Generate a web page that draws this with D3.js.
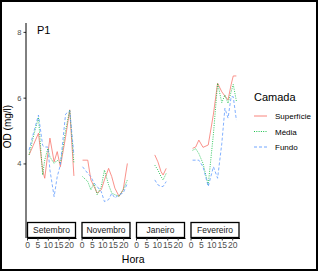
<!DOCTYPE html>
<html>
<head>
<meta charset="utf-8">
<script src="https://cdn.jsdelivr.net/npm/d3@7"></script>
<style>
  body { margin: 0; background: #fff; }
  text { font-family: "Liberation Sans", Arial, sans-serif; }
</style>
</head>
<body>
<div id="chart"></div>
<script>
// meses (facetas)
const months = ["Setembro", "Novembro", "Janeiro", "Fevereiro"];
const layers = ["Superfície", "Média", "Fundo"];
const xTicks = [0, 5, 10, 15, 20];
const yTicks = [4, 6, 8];

// Setembro
const hoursSet = [1, 3, 5.5, 7.5, 8.5, 10, 11, 13, 14.5, 16, 18.5, 20.5, 22.5];
const supSet = [4.26, 4.55, 4.92, 3.8, 3.55, 4.3, 4.77, 4.05, 4.36, 3.9, 4.8, 5.63, 3.62];
const medSet = [4.26, 4.8, 5.4, 3.65, 4.1, 4.46, 4.2, 4.0, 4.1, 4.0, 5.0, 5.63, 4.0];
const funSet = [4.41, 4.9, 5.47, 4.55, 4.5, 4.5, 3.8, 2.99, 3.6, 3.95, 5.5, 5.6, 4.26];

// Novembro
const hoursNov = [0.5, 3, 4.5, 6, 7.5, 9.5, 11, 13, 14.5, 16, 18, 20, 22];
const supNov = [4.1, 4.1, 3.5, 3.3, 3.1, 3.2, 3.5, 3.85, 3.6, 3.25, 3.0, 3.2, 4.0];
const medNov = [3.6, 3.45, 3.2, 3.4, 3.05, 3.3, 3.8, 3.35, 3.1, 3.05, 3.0, 3.2, 3.5];
const funNov = [3.9, 3.7, 3.6, 3.4, 3.3, 3.14, 2.84, 2.9, 3.09, 2.95, 3.05, 3.1, 3.4];

// Janeiro
const hoursJan = [9, 10.5, 12, 13, 14.5];
const supJan = [4.26, 4.05, 3.75, 3.65, 3.85];
const medJan = [3.95, 3.8, 3.6, 3.5, 3.7];
const funJan = [3.5, 3.35, 3.3, 3.3, 3.45];

// Fevereiro
const hoursFev = [1, 2.5, 4, 6, 8.5, 11, 13, 15, 16.5, 18, 19.5, 20.5, 22];
const supFev = [4.46, 4.5, 4.71, 4.49, 4.56, 5.5, 6.44, 6.18, 6.05, 5.93, 6.4, 6.66, 6.66];
const medFev = [4.4, 4.45, 4.3, 4.0, 3.35, 4.9, 6.44, 5.85, 6.08, 5.83, 6.18, 6.4, 5.9];
const funFev = [4.1, 4.1, 4.1, 3.9, 3.3, 3.9, 3.55, 4.6, 5.68, 5.38, 6.03, 6.03, 5.32];

const hours = [hoursSet, hoursNov, hoursJan, hoursFev];
const values = [
  [supSet, medSet, funSet],
  [supNov, medNov, funNov],
  [supJan, medJan, funJan],
  [supFev, medFev, funFev]
];

const colors = ["#F8766D", "#00BA38", "#619CFF"];
const dashes = [null, "1,1.3", "3,2"];

const W = 318, H = 271;
const svg = d3.select("#chart").append("svg")
  .attr("width", W).attr("height", H);

svg.append("rect")
  .attr("x", 1).attr("y", 1).attr("width", W - 2).attr("height", H - 2)
  .attr("fill", "#fff").attr("stroke", "#000").attr("stroke-width", 2);

// painéis
const panelX0 = 27, panelW = 49, gap = 5.5;
const panelTop = 23, panelBottom = 222;
const stripH = 16;
const axisY = panelBottom + stripH;

const y = d3.scaleLinear().domain([2.22, 8.27]).range([panelBottom, panelTop]);

// eixo y
const yAxis = svg.append("g").attr("transform", `translate(${panelX0 - 1},0)`)
  .call(d3.axisLeft(y).tickValues(yTicks).tickFormat(d3.format("d")).tickSize(2.5).tickPadding(2));
yAxis.select(".domain").remove();
yAxis.selectAll("line").attr("stroke", "#333");
yAxis.selectAll("text").attr("font-size", 7.5).attr("fill", "#4d4d4d")
  .attr("font-family", "Liberation Sans, Arial, sans-serif");
svg.append("line")
  .attr("x1", panelX0 - 1).attr("x2", panelX0 - 1)
  .attr("y1", panelTop).attr("y2", axisY)
  .attr("stroke", "#000").attr("stroke-width", 1);

months.forEach((m, i) => {
  const px = panelX0 + i * (panelW + gap);
  const x = d3.scaleLinear().domain([0, 23.5]).range([px, px + panelW]);

  const line = d3.line()
    .x(d => x(d[0]))
    .y(d => y(d[1]));

  values[i].forEach((vals, k) => {
    const pts = hours[i].map((h, j) => [h, vals[j]]);
    svg.append("path")
      .datum(pts)
      .attr("d", line)
      .attr("fill", "none")
      .attr("stroke", colors[k])
      .attr("stroke-width", 0.8)
      .attr("stroke-dasharray", dashes[k]);
  });

  // faixa
  svg.append("rect")
    .attr("x", px + 0.5).attr("y", panelBottom + 0.5)
    .attr("width", panelW - 1).attr("height", stripH - 1)
    .attr("fill", "#fff").attr("stroke", "#000").attr("stroke-width", 1.3);
  svg.append("text")
    .attr("x", px + panelW / 2).attr("y", panelBottom + stripH / 2 + 3)
    .attr("text-anchor", "middle").attr("font-size", 8.5).attr("fill", "#1a1a1a")
    .text(m);

  // eixo x
  const xAxis = svg.append("g").attr("transform", `translate(0,${axisY})`)
    .call(d3.axisBottom(x).tickValues(xTicks).tickSize(2.5).tickPadding(1.5).tickSizeOuter(0));
  xAxis.select(".domain").attr("stroke", "#000");
  xAxis.selectAll("line").attr("stroke", "#333");
  xAxis.selectAll("text").attr("font-size", 8.5).attr("fill", "#4d4d4d")
    .attr("font-family", "Liberation Sans, Arial, sans-serif");
});

// títulos
svg.append("text")
  .attr("x", 37).attr("y", 33.5)
  .attr("font-size", 11).attr("fill", "#000")
  .text("P1");

svg.append("text")
  .attr("x", panelX0 + (4 * panelW + 3 * gap) / 2).attr("y", 263)
  .attr("text-anchor", "middle").attr("font-size", 10.5).attr("fill", "#000")
  .text("Hora");

svg.append("text")
  .attr("transform", `translate(11,${(panelTop + panelBottom) / 2 + 4}) rotate(-90)`)
  .attr("text-anchor", "middle").attr("font-size", 10).attr("fill", "#000")
  .text("OD (mg/l)");

// legenda
const leg = svg.append("g");
leg.append("text")
  .attr("x", 254).attr("y", 100.5)
  .attr("font-size", 11).attr("fill", "#000")
  .text("Camada");

layers.forEach((name, k) => {
  const ly = 116 + k * 15.5;
  leg.append("line")
    .attr("x1", 254).attr("x2", 267)
    .attr("y1", ly).attr("y2", ly)
    .attr("stroke", colors[k]).attr("stroke-width", 0.9)
    .attr("stroke-dasharray", dashes[k]);
  leg.append("text")
    .attr("x", 275).attr("y", ly + 3)
    .attr("font-size", 8).attr("fill", "#000")
    .text(name);
});
</script>
</body>
</html>
